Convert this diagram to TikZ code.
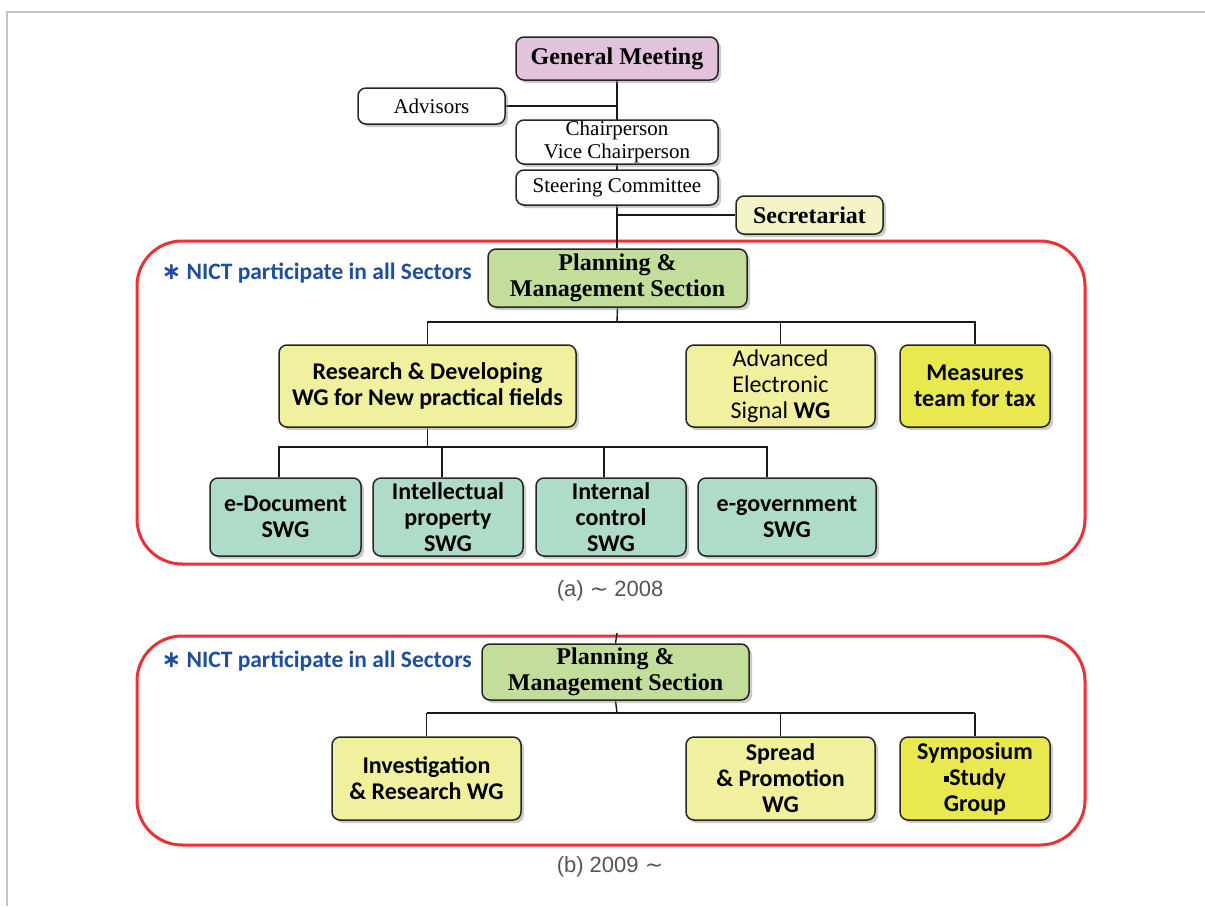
\documentclass[tikz,border=0pt]{standalone}
\usepackage{fontspec}
\setmainfont{Liberation Serif}
\newfontfamily\calfont{Carlito}
\newfontfamily\capfont{Liberation Sans}
\newfontfamily\symfont{DejaVu Sans}
\usetikzlibrary{shadows,backgrounds}

\definecolor{gmpink}{HTML}{E3C2DD}
\definecolor{secyellow}{HTML}{F4F4C6}
\definecolor{pmgreen}{HTML}{C3DD9B}
\definecolor{wgyellow}{HTML}{F0F09E}
\definecolor{teamyellow}{HTML}{E9E84E}
\definecolor{swgmint}{HTML}{AEDCC8}
\definecolor{framered}{HTML}{EC3034}
\definecolor{noteblue}{HTML}{1F4EA0}
\definecolor{capgray}{HTML}{555555}
\definecolor{pagegray}{HTML}{C4C4C4}

\begin{document}
\begin{tikzpicture}[x=1pt,y=-1pt,
  box/.style={draw=black!85, line width=1.5pt, rounded corners=8pt,
    align=center, inner sep=0pt,
    drop shadow={shadow xshift=3pt, shadow yshift=-3pt, fill=black!40}},
  plainbox/.style={box, fill=white, font=\fontsize{21}{23}\selectfont},
  headbox/.style={box, font=\bfseries\fontsize{24}{26}\selectfont},
  wgbox/.style={box, font=\calfont\bfseries\fontsize{24}{26}\selectfont},
  conn/.style={draw=black!90, line width=1.8pt},
  thinconn/.style={draw=black!90, line width=1.4pt},
  sector/.style={draw=framered, line width=3pt, rounded corners=45pt},
  note/.style={anchor=west, text=noteblue, font=\calfont\bfseries\fontsize{23.5}{26}\selectfont},
  caption/.style={text=capgray, font=\capfont\fontsize{22}{24}\selectfont}
]
\useasboundingbox (0,0) rectangle (1205,906);

% ---------- governing bodies ----------
\node[headbox, fill=gmpink, minimum width=202pt, minimum height=43pt] (gm) at (617,58.5) {General Meeting};
\node[plainbox, minimum width=147pt, minimum height=36pt] (adv) at (431.5,106) {Advisors};
\node[plainbox, minimum width=202pt, minimum height=44pt] (chair) at (617,142) {Chairperson\\Vice Chairperson};
\node[plainbox, minimum width=202pt, minimum height=35pt] (steer) at (617,187.5) {Steering Committee};
\node[headbox, fill=secyellow, minimum width=147pt, minimum height=38pt] (sec) at (809.5,215) {Secretariat};

% ---------- (a) up to 2008 ----------
\node[note] (notea) at (158,273) {{\symfont\bfseries ∗} NICT participate in all Sectors};
\node[headbox, fill=pmgreen, minimum width=259pt, minimum height=58pt] (pma) at (617.5,278) {Planning \&\\Management Section};
\node[wgbox, fill=wgyellow, minimum width=297pt, minimum height=82pt] (rd) at (427.5,386) {Research \& Developing\\WG for New practical fields};
\node[wgbox, fill=wgyellow, minimum width=189pt, minimum height=82pt, font=\calfont\fontsize{24}{26}\selectfont] (aes) at (780.5,386) {Advanced\\Electronic\\Signal \textbf{WG}};
\node[wgbox, fill=teamyellow, minimum width=150pt, minimum height=82pt] (tax) at (975,386) {Measures\\team for tax};
\node[wgbox, fill=swgmint, minimum width=151pt, minimum height=78pt] (doc) at (285.5,517) {e-Document\\SWG};
\node[wgbox, fill=swgmint, minimum width=150pt, minimum height=78pt] (ip) at (448,517) {Intellectual\\property\\SWG};
\node[wgbox, fill=swgmint, minimum width=150pt, minimum height=78pt] (ic) at (611,517) {Internal\\control\\SWG};
\node[wgbox, fill=swgmint, minimum width=178pt, minimum height=78pt] (egov) at (787,517) {e-government\\SWG};
\node[caption] (capa) at (610,591) {(a) {\symfont ∼} 2008};

% ---------- (b) from 2009 ----------
\node[note] (noteb) at (158,661) {{\symfont\bfseries ∗} NICT participate in all Sectors};
\node[headbox, fill=pmgreen, minimum width=267pt, minimum height=56pt] (pmb) at (615.5,672) {Planning \&\\Management Section};
\node[wgbox, fill=wgyellow, minimum width=189pt, minimum height=83pt] (inv) at (426.5,778.5) {Investigation\\\& Research WG};
\node[wgbox, fill=wgyellow, minimum width=189pt, minimum height=83pt] (spr) at (780.5,778.5) {Spread\\\& Promotion\\WG};
\node[wgbox, fill=teamyellow, minimum width=150pt, minimum height=83pt] (sym) at (975,778.5) {Symposium\\\rule[0.3ex]{0.22em}{0.22em}Study\\Group};
\node[caption] (capb) at (610,867) {(b) 2009 {\symfont ∼}};

% junction points of the branch lines
\coordinate (ja) at (617,322);
\coordinate (jr) at (427.5,447);
\coordinate (k1) at (279,447);
\coordinate (k2) at (442,447);
\coordinate (k3) at (604,447);
\coordinate (k4) at (767,447);
\coordinate (topb) at (617,633);
\coordinate (jb) at (617,713);

\begin{scope}[on background layer]
  \fill[white] (0,0) rectangle (1205,906);
  \draw[pagegray, line width=2pt] (7,906) -- (7,12) -- (1205,12);
  \draw[sector] (137,241) rectangle (1085,564);
  \draw[sector] (137,636) rectangle (1085,845);

  % chain of command down to the section
  \draw[conn] (gm.south) -- (gm.south |- pma.north);
  \draw[conn] (adv.east) -- (adv.east -| gm.south);
  \draw[conn] (sec.west) -- (sec.west -| gm.south);

  % section (a) branches
  \draw[thinconn] (pma.south) -- (ja);
  \draw[conn] (rd.north) -- (rd.north |- ja) -- (tax.north |- ja) -- (tax.north);
  \draw[conn] (aes.north) -- (aes.north |- ja);
  \draw[thinconn] (rd.south) -- (jr);
  \draw[thinconn] (k1 |- doc.north) -- (k1) -- (k4) -- (k4 |- egov.north);
  \draw[conn] (k2) -- (k2 |- ip.north);
  \draw[thinconn] (k3) -- (k3 |- ic.north);

  % section (b) branches
  \draw[thinconn] (topb) -- (pmb.north);
  \draw[thinconn] (pmb.south) -- (jb);
  \draw[draw=black!90, line width=2.6pt] (inv.north |- jb) -- (sym.north |- jb);
  \draw[thinconn] (inv.north) -- (inv.north |- jb);
  \draw[thinconn] (spr.north) -- (spr.north |- jb);
  \draw[conn] (sym.north) -- (sym.north |- jb);
\end{scope}
\end{tikzpicture}
\end{document}
